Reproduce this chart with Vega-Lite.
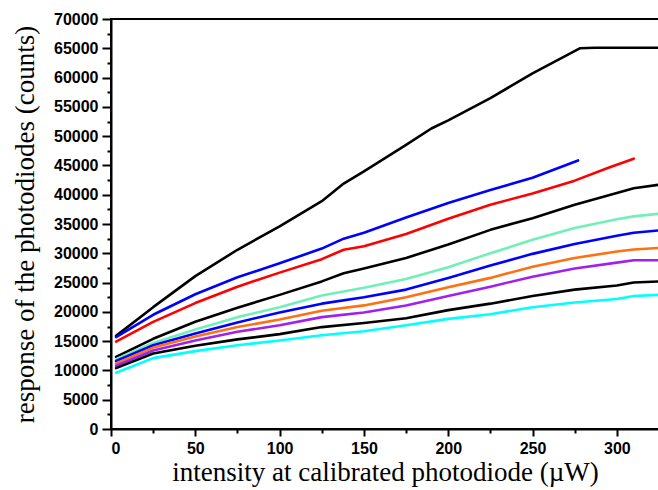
{
  "$schema": "https://vega.github.io/schema/vega-lite/v6.json",
  "width": 548,
  "height": 410,
  "autosize": {"type": "none"},
  "padding": {"left": 111, "top": 19, "right": 0, "bottom": 61},
  "background": "white",
  "view": {"stroke": "black", "strokeWidth": 2},
  "config": {
    "axis": {
      "grid": false,
      "domainColor": "black",
      "domainWidth": 2,
      "tickColor": "black",
      "tickWidth": 2,
      "labelColor": "black",
      "labelFont": "Liberation Sans",
      "labelFontSize": 16,
      "labelFontWeight": "bold",
      "titleColor": "black",
      "titleFont": "Liberation Serif",
      "titleFontSize": 27,
      "titleFontWeight": "normal"
    }
  },
  "datasets": {
    "curves": [
      {"series": "s1", "x": 3, "y": 15900}, {"series": "s1", "x": 25, "y": 20800}, {"series": "s1", "x": 50, "y": 26100}, {"series": "s1", "x": 75, "y": 30600}, {"series": "s1", "x": 100, "y": 34600}, {"series": "s1", "x": 125, "y": 38900}, {"series": "s1", "x": 138, "y": 41900}, {"series": "s1", "x": 150, "y": 44000}, {"series": "s1", "x": 175, "y": 48500}, {"series": "s1", "x": 190, "y": 51300}, {"series": "s1", "x": 200, "y": 52700}, {"series": "s1", "x": 225, "y": 56500}, {"series": "s1", "x": 250, "y": 60700}, {"series": "s1", "x": 278, "y": 65000}, {"series": "s1", "x": 287, "y": 65100}, {"series": "s1", "x": 325, "y": 65100},
      {"series": "s2", "x": 3, "y": 15700}, {"series": "s2", "x": 25, "y": 19500}, {"series": "s2", "x": 50, "y": 23000}, {"series": "s2", "x": 75, "y": 25900}, {"series": "s2", "x": 100, "y": 28300}, {"series": "s2", "x": 125, "y": 30800}, {"series": "s2", "x": 138, "y": 32500}, {"series": "s2", "x": 150, "y": 33500}, {"series": "s2", "x": 175, "y": 36100}, {"series": "s2", "x": 200, "y": 38600}, {"series": "s2", "x": 225, "y": 40800}, {"series": "s2", "x": 250, "y": 42900}, {"series": "s2", "x": 277, "y": 45850},
      {"series": "s3", "x": 3, "y": 14900}, {"series": "s3", "x": 25, "y": 18300}, {"series": "s3", "x": 50, "y": 21500}, {"series": "s3", "x": 75, "y": 24300}, {"series": "s3", "x": 100, "y": 26700}, {"series": "s3", "x": 125, "y": 29000}, {"series": "s3", "x": 138, "y": 30600}, {"series": "s3", "x": 150, "y": 31200}, {"series": "s3", "x": 175, "y": 33300}, {"series": "s3", "x": 200, "y": 35900}, {"series": "s3", "x": 225, "y": 38300}, {"series": "s3", "x": 250, "y": 40200}, {"series": "s3", "x": 275, "y": 42400}, {"series": "s3", "x": 295, "y": 44600}, {"series": "s3", "x": 310, "y": 46150},
      {"series": "s4", "x": 3, "y": 12300}, {"series": "s4", "x": 25, "y": 15400}, {"series": "s4", "x": 50, "y": 18300}, {"series": "s4", "x": 75, "y": 20700}, {"series": "s4", "x": 100, "y": 22900}, {"series": "s4", "x": 125, "y": 25200}, {"series": "s4", "x": 138, "y": 26600}, {"series": "s4", "x": 150, "y": 27400}, {"series": "s4", "x": 175, "y": 29200}, {"series": "s4", "x": 200, "y": 31500}, {"series": "s4", "x": 225, "y": 34000}, {"series": "s4", "x": 250, "y": 36000}, {"series": "s4", "x": 275, "y": 38300}, {"series": "s4", "x": 300, "y": 40300}, {"series": "s4", "x": 310, "y": 41100}, {"series": "s4", "x": 325, "y": 41700},
      {"series": "s5", "x": 3, "y": 11900}, {"series": "s5", "x": 25, "y": 14700}, {"series": "s5", "x": 50, "y": 17000}, {"series": "s5", "x": 75, "y": 19100}, {"series": "s5", "x": 100, "y": 20800}, {"series": "s5", "x": 125, "y": 22800}, {"series": "s5", "x": 150, "y": 24100}, {"series": "s5", "x": 175, "y": 25600}, {"series": "s5", "x": 200, "y": 27600}, {"series": "s5", "x": 225, "y": 30000}, {"series": "s5", "x": 250, "y": 32300}, {"series": "s5", "x": 275, "y": 34300}, {"series": "s5", "x": 300, "y": 35800}, {"series": "s5", "x": 310, "y": 36300}, {"series": "s5", "x": 325, "y": 36750},
      {"series": "s6", "x": 3, "y": 11600}, {"series": "s6", "x": 25, "y": 14300}, {"series": "s6", "x": 50, "y": 16300}, {"series": "s6", "x": 75, "y": 18200}, {"series": "s6", "x": 100, "y": 19900}, {"series": "s6", "x": 125, "y": 21400}, {"series": "s6", "x": 150, "y": 22500}, {"series": "s6", "x": 175, "y": 23800}, {"series": "s6", "x": 200, "y": 25800}, {"series": "s6", "x": 225, "y": 27900}, {"series": "s6", "x": 250, "y": 29900}, {"series": "s6", "x": 275, "y": 31600}, {"series": "s6", "x": 300, "y": 33000}, {"series": "s6", "x": 310, "y": 33500}, {"series": "s6", "x": 325, "y": 33900},
      {"series": "s7", "x": 3, "y": 11200}, {"series": "s7", "x": 25, "y": 13900}, {"series": "s7", "x": 50, "y": 15800}, {"series": "s7", "x": 75, "y": 17400}, {"series": "s7", "x": 100, "y": 18700}, {"series": "s7", "x": 125, "y": 20200}, {"series": "s7", "x": 150, "y": 21100}, {"series": "s7", "x": 175, "y": 22500}, {"series": "s7", "x": 200, "y": 24200}, {"series": "s7", "x": 225, "y": 25800}, {"series": "s7", "x": 250, "y": 27700}, {"series": "s7", "x": 275, "y": 29200}, {"series": "s7", "x": 300, "y": 30300}, {"series": "s7", "x": 310, "y": 30650}, {"series": "s7", "x": 325, "y": 30900},
      {"series": "s8", "x": 3, "y": 10800}, {"series": "s8", "x": 25, "y": 13400}, {"series": "s8", "x": 50, "y": 15100}, {"series": "s8", "x": 75, "y": 16600}, {"series": "s8", "x": 100, "y": 17700}, {"series": "s8", "x": 125, "y": 19100}, {"series": "s8", "x": 150, "y": 19900}, {"series": "s8", "x": 175, "y": 21100}, {"series": "s8", "x": 200, "y": 22700}, {"series": "s8", "x": 225, "y": 24300}, {"series": "s8", "x": 250, "y": 26000}, {"series": "s8", "x": 275, "y": 27400}, {"series": "s8", "x": 300, "y": 28400}, {"series": "s8", "x": 310, "y": 28800}, {"series": "s8", "x": 325, "y": 28800},
      {"series": "s9", "x": 3, "y": 10400}, {"series": "s9", "x": 25, "y": 12900}, {"series": "s9", "x": 50, "y": 14200}, {"series": "s9", "x": 75, "y": 15300}, {"series": "s9", "x": 100, "y": 16200}, {"series": "s9", "x": 125, "y": 17400}, {"series": "s9", "x": 150, "y": 18100}, {"series": "s9", "x": 175, "y": 18900}, {"series": "s9", "x": 200, "y": 20300}, {"series": "s9", "x": 225, "y": 21400}, {"series": "s9", "x": 250, "y": 22700}, {"series": "s9", "x": 275, "y": 23800}, {"series": "s9", "x": 300, "y": 24500}, {"series": "s9", "x": 310, "y": 25000}, {"series": "s9", "x": 325, "y": 25200},
      {"series": "s10", "x": 3, "y": 9600}, {"series": "s10", "x": 25, "y": 12100}, {"series": "s10", "x": 50, "y": 13300}, {"series": "s10", "x": 75, "y": 14300}, {"series": "s10", "x": 100, "y": 15100}, {"series": "s10", "x": 125, "y": 16000}, {"series": "s10", "x": 150, "y": 16700}, {"series": "s10", "x": 175, "y": 17700}, {"series": "s10", "x": 200, "y": 18800}, {"series": "s10", "x": 225, "y": 19600}, {"series": "s10", "x": 250, "y": 20800}, {"series": "s10", "x": 275, "y": 21600}, {"series": "s10", "x": 300, "y": 22200}, {"series": "s10", "x": 310, "y": 22700}, {"series": "s10", "x": 325, "y": 22900}
    ]
  },
  "data": {"name": "curves"},
  "resolve": {"axis": {"x": "independent", "y": "independent"}},
  "layer": [
    {
      "mark": {"type": "line", "strokeWidth": 2.6, "interpolate": "linear", "strokeJoin": "round", "strokeCap": "round"},
      "encoding": {
        "x": {
          "field": "x", "type": "quantitative",
          "scale": {"domain": [0, 325], "nice": false, "zero": false},
          "axis": {
            "orient": "bottom",
            "title": "intensity at calibrated photodiode (µW)",
            "values": [0, 50, 100, 150, 200, 250, 300],
            "tickSize": 7,
            "labelPadding": 4,
            "titlePadding": 3
          }
        },
        "y": {
          "field": "y", "type": "quantitative",
          "scale": {"domain": [0, 70000], "nice": false, "zero": false},
          "axis": {
            "orient": "left",
            "title": "response of the photodiodes (counts)",
            "values": [0, 5000, 10000, 15000, 20000, 25000, 30000, 35000, 40000, 45000, 50000, 55000, 60000, 65000, 70000],
            "format": "d",
            "tickSize": 9,
            "labelPadding": 4,
            "titlePadding": 14
          }
        },
        "color": {
          "field": "series", "type": "nominal", "legend": null,
          "scale": {
            "domain": ["s1", "s2", "s3", "s4", "s5", "s6", "s7", "s8", "s9", "s10"],
            "range": ["#000000", "#0000ff", "#ff0000", "#000000", "#70f0b8", "#0000ff", "#ff7010", "#a020f0", "#000000", "#00ffff"]
          }
        },
        "detail": {"field": "series"}
      }
    },
    {
      "mark": {"type": "point", "opacity": 0, "size": 1},
      "encoding": {
        "x": {
          "field": "x", "type": "quantitative",
          "axis": {
            "orient": "bottom", "title": null, "labels": false, "domain": false,
            "values": [25, 75, 125, 175, 225, 275], "tickSize": 4
          }
        },
        "y": {
          "field": "y", "type": "quantitative",
          "axis": {
            "orient": "left", "title": null, "labels": false, "domain": false,
            "values": [2500, 7500, 12500, 17500, 22500, 27500, 32500, 37500, 42500, 47500, 52500, 57500, 62500, 67500],
            "tickSize": 4
          }
        }
      }
    }
  ]
}
